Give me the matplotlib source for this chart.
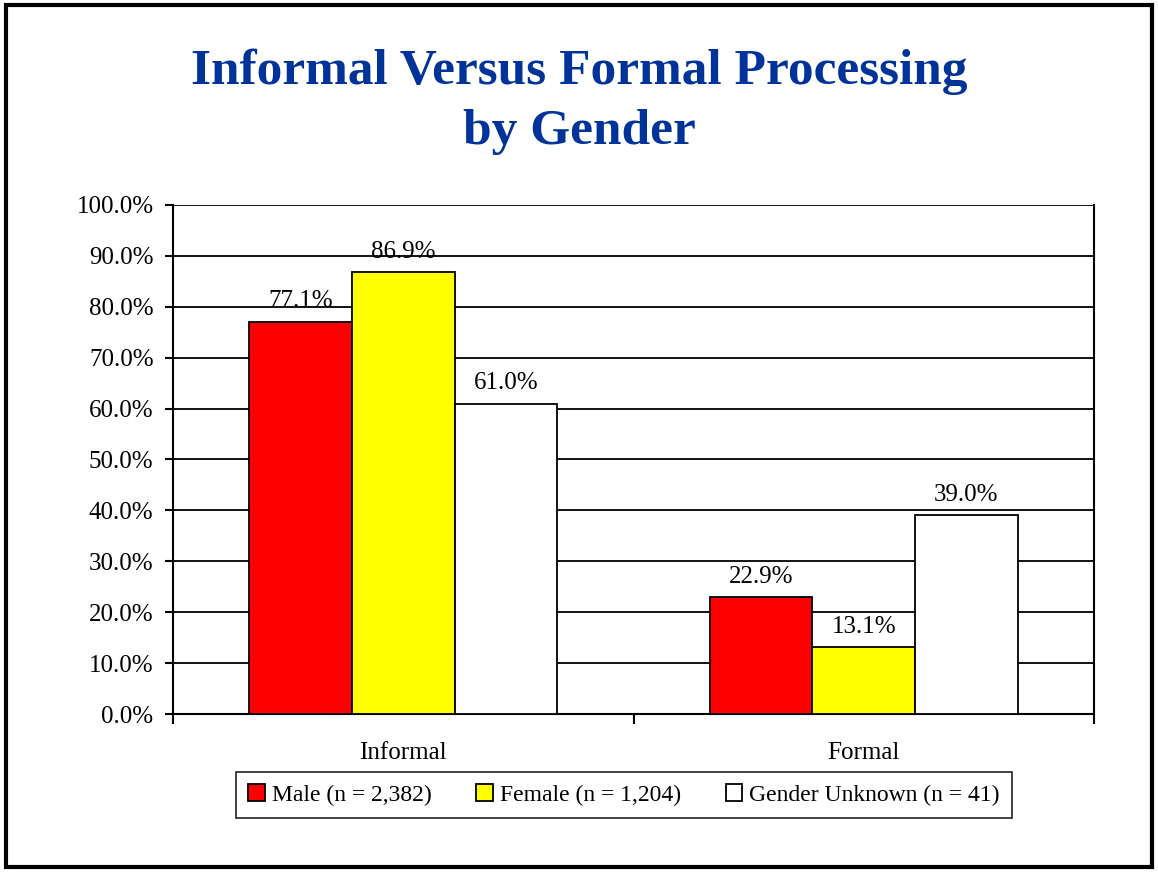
import numpy as np
import matplotlib.pyplot as plt
from matplotlib.patches import Rectangle

# chart values
categories = ["Informal", "Formal"]
series_names = ["Male (n = 2,382)", "Female (n = 1,204)", "Gender Unknown (n = 41)"]
male = [77.1, 22.9]
female = [86.9, 13.1]
unknown = [61.0, 39.0]
colors = ["#ff0000", "#ffff00", "#ffffff"]
yticks = np.arange(0, 101, 10)

plt.rcParams['font.family'] = ['Liberation Serif', 'DejaVu Serif']

fig = plt.figure(figsize=(11.58, 8.72), dpi=100)
fig.patches.append(Rectangle((0.005, 0.006), 0.99, 0.988, transform=fig.transFigure,
                             fill=False, edgecolor='black', linewidth=3))

fig.text(0.5, 0.918, "Informal Versus Formal Processing", ha='center', va='center',
         fontsize=37, fontweight='bold', color='#003399')
fig.text(0.5, 0.849, "by Gender", ha='center', va='center',
         fontsize=37, fontweight='bold', color='#003399')

ax = fig.add_axes([173/1158, 1 - 714/872, (1094-173)/1158, (714-205)/872])
x = np.arange(len(categories))
w = 0.223
for i, (vals, name, c) in enumerate(zip([male, female, unknown], series_names, colors)):
    bars = ax.bar(x + (i - 1) * w, vals, w, color=c, edgecolor='black', linewidth=1.3,
                  label=name, zorder=3)
    for b, v in zip(bars, vals):
        ax.text(b.get_x() + b.get_width() / 2, v + 1.8, f"{v:.1f}%", ha='center',
                va='bottom', fontsize=18, zorder=4)

ax.set_xlim(-0.5, 1.5)
ax.set_ylim(0, 100)
ax.set_yticks(yticks)
ax.set_yticklabels([f"{t:.1f}%" for t in yticks], fontsize=18)
ax.yaxis.grid(True, color='black', linewidth=1.3, zorder=0)
ax.set_axisbelow(True)
ax.set_xticks([-0.5, 0.5, 1.5])
ax.set_xticklabels([])
ax.set_xticks(x, minor=True)
ax.set_xticklabels(categories, minor=True, fontsize=18)
ax.tick_params(axis='x', which='minor', length=0, pad=20)
ax.tick_params(axis='x', which='major', length=7, width=1.5, direction='out')
ax.tick_params(axis='y', length=6, width=1.5, direction='out', pad=8)
ax.spines['top'].set_visible(False)
for s in ['left', 'right', 'bottom']:
    ax.spines[s].set_linewidth(1.5)

leg = fig.legend(loc='center', bbox_to_anchor=(624/1158, 1 - 795/872), ncol=3,
                 fontsize=17, frameon=True, fancybox=False, edgecolor='black',
                 handlelength=0.7, handleheight=0.7, handletextpad=0.3,
                 columnspacing=1.9, borderpad=0.5, borderaxespad=0)
leg.get_frame().set_linewidth(1.3)

fig.savefig("out.png", dpi=100)
